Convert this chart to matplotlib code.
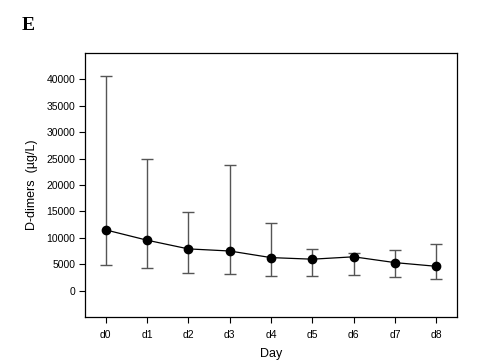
import matplotlib.pyplot as plt
import numpy as np

plt.rcParams["font.family"] = ["Liberation Sans", "DejaVu Sans"]

days = ["d0", "d1", "d2", "d3", "d4", "d5", "d6", "d7", "d8"]
median = [11500, 9550, 7900, 7500, 6250, 5950, 6400, 5300, 4600]
upper = [40700, 25000, 14950, 23700, 12800, 7950, 7200, 7600, 8800]
lower = [4850, 4300, 3300, 3050, 2700, 2850, 2900, 2550, 2250]

x = np.arange(len(days))
med = np.array(median)
yerr = [med - np.array(lower), np.array(upper) - med]

fig = plt.figure(figsize=(4.94, 3.64), dpi=100)
ax = fig.add_axes([85 / 494, 1 - 317 / 364, 372 / 494, 264 / 364])

ax.errorbar(x, med, yerr=yerr, fmt="none", ecolor="#555555", elinewidth=1.0,
            capsize=4, capthick=1.0, zorder=2)
ax.plot(x, med, color="black", lw=0.9, marker="o", markersize=6, zorder=3)

ax.set_xlim(-0.5, 8.5)
ax.set_ylim(-5000, 45000)
ax.set_xticks(x)
ax.set_xticklabels(days)
ax.set_yticks(np.arange(0, 40001, 5000))
ax.tick_params(axis="both", labelsize=7.5, direction="out", length=4, width=0.8)
ax.tick_params(axis="x", pad=5)
ax.tick_params(axis="y", pad=3)
for s in ax.spines.values():
    s.set_linewidth(0.9)

ax.set_xlabel("Day", fontsize=9, labelpad=6)
ax.set_ylabel("D-dimers  (µg/L)", fontsize=9, labelpad=6)

fig.text(22 / 494, 1 - 26 / 364, "E", fontsize=14, fontweight="bold",
         family="Liberation Serif", va="center", ha="left")

fig.savefig("out.png", dpi=100)
